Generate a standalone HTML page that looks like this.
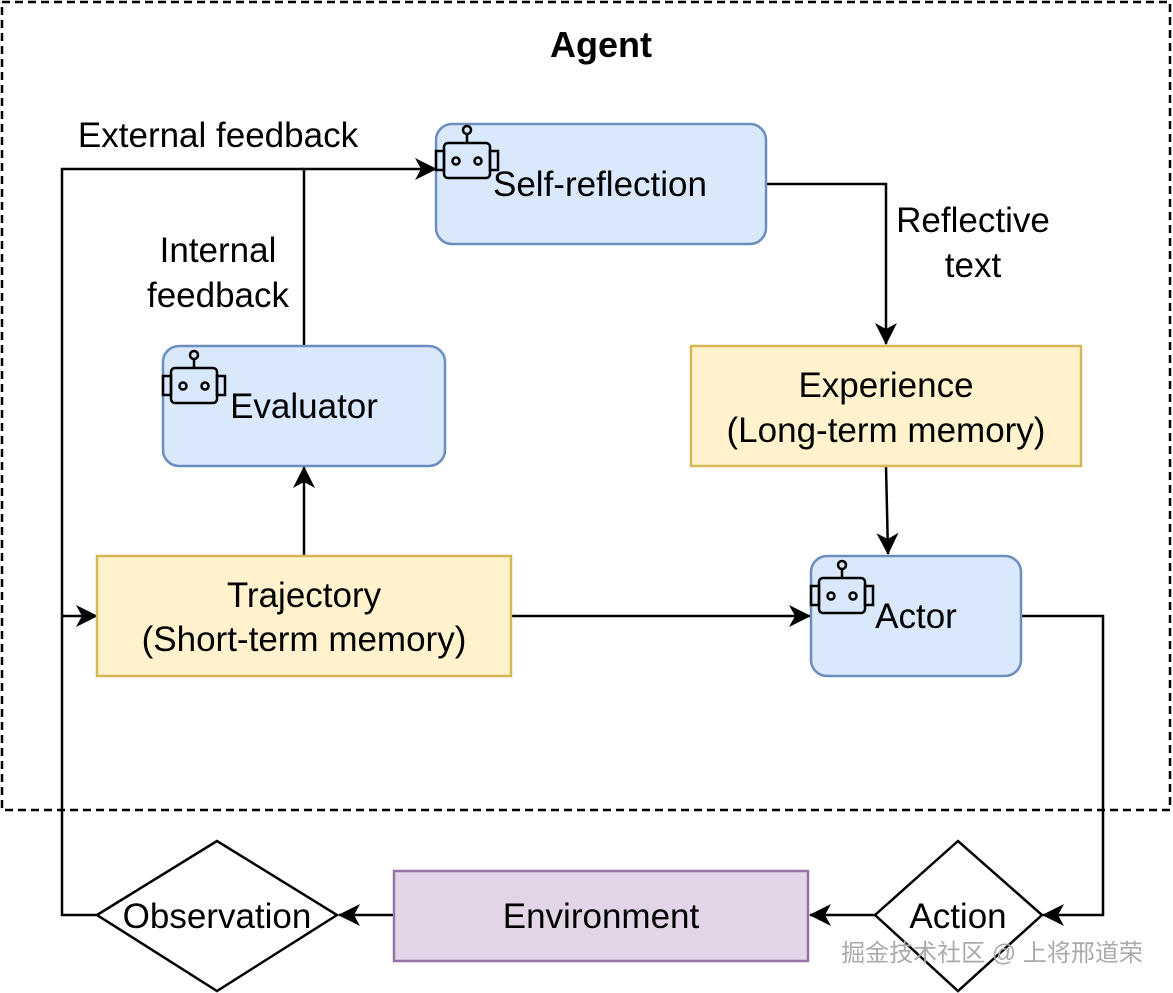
<!DOCTYPE html>
<html><head><meta charset="utf-8"><style>
html,body{margin:0;padding:0;background:#fff}
svg{display:block}
text{font-family:"Liberation Sans","Noto Sans CJK SC",sans-serif;fill:#000}
</style></head><body>
<svg width="1173" height="993" viewBox="0 0 1173 993" xmlns="http://www.w3.org/2000/svg">
<defs>
<marker id="a" markerWidth="24" markerHeight="22" refX="21" refY="11" orient="auto" markerUnits="userSpaceOnUse">
<path d="M0,0 L22,11 L0,22 L6,11 Z" fill="#000"/></marker>
<g id="bot" fill="none" stroke="#000" stroke-width="2.5">
<circle cx="31" cy="5" r="4"/><line x1="31" y1="9" x2="31" y2="18"/>
<rect x="8" y="18" width="46" height="35" rx="4"/>
<rect x="0" y="26" width="8" height="19"/><rect x="54" y="26" width="8" height="19"/>
<circle cx="20" cy="36" r="3.5"/><circle cx="42" cy="36" r="3.5"/>
</g>
</defs>
<rect x="2" y="2" width="1168" height="808" fill="none" stroke="#000" stroke-width="2.5" stroke-dasharray="8,5"/>
<text x="601" y="57" font-size="36" font-weight="bold" text-anchor="middle">Agent</text>

<g stroke="#000" stroke-width="2.5" fill="none">
<polyline points="766,184 886,184 886,344" marker-end="url(#a)"/>
<line x1="886" y1="466" x2="888" y2="554" marker-end="url(#a)"/>
<line x1="511" y1="616" x2="810" y2="616" marker-end="url(#a)"/>
<line x1="304" y1="556" x2="304" y2="467" marker-end="url(#a)"/>
<polyline points="304,346 304,169 436,169" marker-end="url(#a)"/>
<polyline points="97,915 62,915 62,169 304,169"/>
<line x1="62" y1="616" x2="97" y2="616" marker-end="url(#a)"/>
<polyline points="1021,616 1103,616 1103,915 1043,915" marker-end="url(#a)"/>
<line x1="875" y1="915" x2="810" y2="915" marker-end="url(#a)"/>
<line x1="394" y1="915" x2="339" y2="915" marker-end="url(#a)"/>
</g>

<rect x="436" y="124" width="330" height="120" rx="16" fill="#dae8fc" stroke="#6c8ebf" stroke-width="2.5"/>
<rect x="163" y="346" width="282" height="120" rx="16" fill="#dae8fc" stroke="#6c8ebf" stroke-width="2.5"/>
<rect x="811" y="556" width="210" height="120" rx="16" fill="#dae8fc" stroke="#6c8ebf" stroke-width="2.5"/>
<rect x="691" y="346" width="390" height="120" fill="#fff2cc" stroke="#d6b656" stroke-width="2.5"/>
<rect x="97" y="556" width="414" height="120" fill="#fff2cc" stroke="#d6b656" stroke-width="2.5"/>
<rect x="394" y="871" width="414" height="90" fill="#e1d5e7" stroke="#9673a6" stroke-width="2.5"/>
<polygon points="97,915 217,841 337,915 217,991" fill="#fff" stroke="#000" stroke-width="2.5"/>
<polygon points="875,915 958,841 1042,915 958,991" fill="#fff" stroke="#000" stroke-width="2.5"/>

<use href="#bot" x="436" y="125"/>
<use href="#bot" x="163" y="350"/>
<use href="#bot" x="811" y="560"/>

<g font-size="35" text-anchor="middle">
<text x="600" y="196">Self-reflection</text>
<text x="304" y="418">Evaluator</text>
<text x="916" y="628">Actor</text>
<text x="886" y="397">Experience</text>
<text x="886" y="442">(Long-term memory)</text>
<text x="304" y="607">Trajectory</text>
<text x="304" y="651">(Short-term memory)</text>
<text x="601" y="928">Environment</text>
<text x="217" y="928">Observation</text>
<text x="958" y="928">Action</text>
<text x="218" y="147">External feedback</text>
<text x="218" y="262">Internal</text>
<text x="218" y="307">feedback</text>
<text x="973" y="232">Reflective</text>
<text x="973" y="277">text</text>
</g>
<text x="992" y="961" font-size="24" text-anchor="middle" style="fill:#aaa">掘金技术社区 @ 上将邢道荣</text>
</svg>
</body></html>
